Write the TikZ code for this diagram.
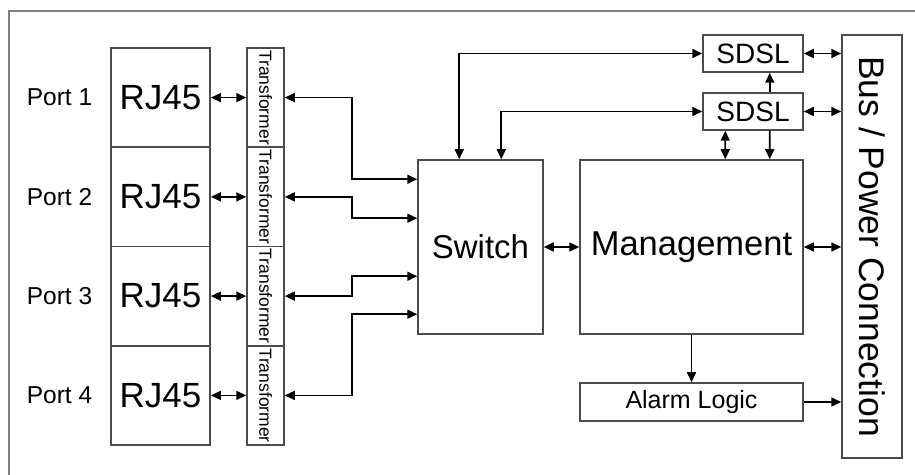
\documentclass[tikz,border=0pt]{standalone}
\usepackage{fontspec}
\setmainfont{Liberation Sans}
\usetikzlibrary{arrows.meta}
\begin{document}
\begin{tikzpicture}[x=1bp,y=-1bp,
  box/.style={draw=black!70,line width=1.5bp,inner sep=0pt,anchor=center},
  conn/.style={line width=1.6bp,black},
  dbl/.style={conn,{Triangle[length=10bp,width=9bp]}-{Triangle[length=10bp,width=9bp]}},
  one/.style={conn,-{Triangle[length=10bp,width=9bp]}},
  fs/.style={font=\fontsize{#1bp}{#1bp}\selectfont}]
\useasboundingbox (0,0) rectangle (915,475);
\draw[black!50,line width=2bp] (9,476) -- (9,11) -- (916,11);
% RJ45 and transformers
\foreach \i/\y in {1/97.6,2/196.9,3/296.1,4/395.4}{
  \node[box,minimum width=99.25bp,minimum height=99.25bp,fs=35] (rj\i) at (160.5,\y) {RJ45};
  \node[box,minimum width=99.25bp,minimum height=37bp,fs=17.5,rotate=-90] (tr\i) at (265.5,\y) {Transformer};
  \node[fs=24.5,anchor=center] (pl\i) at (59.5,\y) {Port \i};
  \draw[dbl] (rj\i.east) -- (tr\i.south);
}
\node[box,minimum width=125bp,minimum height=174bp,fs=33] (sw) at (480.5,247) {Switch};
\node[box,minimum width=223bp,minimum height=174bp,fs=34.5] (mg) at (691.5,247) {Management};
\node[box,minimum width=100bp,minimum height=37bp,fs=28] (sd1) at (753,53.5) {SDSL};
\node[box,minimum width=100bp,minimum height=37bp,fs=28] (sd2) at (753,111.5) {SDSL};
\node[box,minimum width=423bp,minimum height=60bp,fs=35.5,rotate=-90] (bus) at (872,246.5) {Bus / Power Connection};
\node[box,minimum width=223bp,minimum height=38bp,fs=25] (al) at (691.5,402) {Alarm Logic};
% transformer to switch
\draw[dbl] (tr1.north) -- ++(67,0) |- ([yshift=-20bp]sw.north west);
\draw[dbl] (tr2.north) -- ++(67,0) |- ([yshift=-59bp]sw.north west);
\draw[dbl] (tr3.north) -- ++(67,0) |- ([yshift=-117bp]sw.north west);
\draw[dbl] (tr4.north) -- ++(67,0) |- ([yshift=-155bp]sw.north west);
% switch to SDSL
\draw[dbl] ([xshift=42bp]sw.north west) |- (sd1.west);
\draw[dbl] ([xshift=84bp]sw.north west) |- (sd2.west);
\draw[dbl] (sd1.east) -- (sd1.east -| bus.south);
\draw[dbl] (sd2.east) -- (sd2.east -| bus.south);
\draw[one] ([xshift=-34bp]sd2.north east) -- ([xshift=-34bp]sd1.south east);
\draw[dbl] ([xshift=23bp]sd2.south west) -- ([xshift=146bp]mg.north west);
\draw[one] ([xshift=-34bp]sd2.south east) -- ([xshift=-34bp]mg.north east);
\draw[dbl] (sw.east) -- (mg.west);
\draw[dbl] (mg.east) -- (mg.east -| bus.south);
\draw[one] (mg.south) -- (al.north);
\draw[one] (al.east) -- (al.east -| bus.south);
\end{tikzpicture}
\end{document}
